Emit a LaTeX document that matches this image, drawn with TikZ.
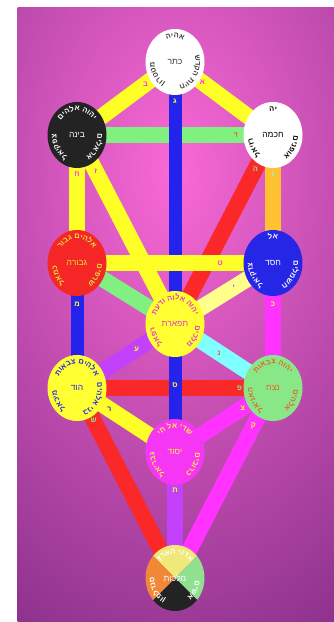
\documentclass[tikz,border=0pt]{standalone}
\usepackage{fontspec}
\newfontfamily\heb[Script=Hebrew]{Liberation Sans}
\TeXXeTstate=1
\usetikzlibrary{shapes.geometric,decorations.text}
\pgfdeclarelayer{bg}
\pgfdeclarelayer{paths}
\pgfsetlayers{bg,paths,main}
\definecolor{pinkc}{RGB}{250,105,215}
\definecolor{purpc}{RGB}{140,50,140}
\definecolor{cYel}{RGB}{255,255,40}
\definecolor{cGrn}{RGB}{128,240,128}
\definecolor{cBlu}{RGB}{35,35,235}
\definecolor{cRed}{RGB}{250,40,40}
\definecolor{cOra}{RGB}{255,195,50}
\definecolor{cLYel}{RGB}{255,255,140}
\definecolor{cCya}{RGB}{128,255,255}
\definecolor{cPur}{RGB}{195,65,250}
\definecolor{cMag}{RGB}{255,50,255}
\definecolor{sBlk}{RGB}{35,35,35}
\definecolor{sBlu}{RGB}{38,38,230}
\definecolor{sRed}{RGB}{245,38,38}
\definecolor{sYel}{RGB}{255,255,50}
\definecolor{sGrn}{RGB}{136,232,136}
\definecolor{sMag}{RGB}{245,55,245}
\definecolor{mYel}{RGB}{240,232,120}
\definecolor{mGrn}{RGB}{144,224,144}
\definecolor{mOra}{RGB}{240,136,56}
\definecolor{tGev}{RGB}{230,230,60}
\definecolor{tTif}{RGB}{225,60,200}
\definecolor{tNet}{RGB}{230,100,40}
\definecolor{tHod}{RGB}{40,40,230}
\definecolor{tYes}{RGB}{255,240,60}
\definecolor{tKet}{RGB}{60,60,60}
\newcommand\ringfont{\heb\bfseries\fontsize{7.5}{7.5}\selectfont}
\newcommand\namefont{\heb\fontsize{8.5}{8.5}\selectfont}
\newcommand\hname[1]{\namefont\beginR #1\endR}
\newcommand\sephring[5]{%
  \path[shift={(#1.center)},decorate,decoration={text along path,text align=center,text color=#5,text={|\ringfont|#2}}]
    (163:20.5pt and 24pt) arc[start angle=163,end angle=17,x radius=20.5pt,y radius=24pt];
  \path[shift={(#1.center)},decorate,decoration={text along path,text align=center,text color=#5,text={|\ringfont|#3}}]
    (257:20.5pt and 24pt) arc[start angle=257,end angle=166,x radius=20.5pt,y radius=24pt];
  \path[shift={(#1.center)},decorate,decoration={text along path,text align=center,text color=#5,text={|\ringfont|#4}}]
    (14:20.5pt and 24pt) arc[start angle=14,end angle=-77,x radius=20.5pt,y radius=24pt];
}
\tikzset{
  seph/.style={ellipse,minimum width=59pt,minimum height=66pt,inner sep=0pt},
  pth/.style={line width=16pt},
  bluepth/.style={line width=13pt,cBlu},
  lbl/.style={font=\heb\bfseries\fontsize{7.5}{7.5}\selectfont,inner sep=0pt},
}
\begin{document}
\begin{tikzpicture}[x=1pt,y=1pt]
\useasboundingbox (0,0) rectangle (334,622);
\begin{pgfonlayer}{bg}
\fill[white] (0,0) rectangle (334,622);
\fill[purpc] (17.5,0) rectangle (334,614);
\begin{scope}
\clip (17.5,0) rectangle (334,614);
\shade[inner color=pinkc,outer color=purpc] (175,450) ellipse [x radius=330pt,y radius=520pt];
\end{scope}
\end{pgfonlayer}

% sephirot
\node[seph,fill=white,text=tKet] (keter) at (175,560) {\hname{כתר}};
\node[seph,fill=white,text=black] (chokmah) at (273,487) {\hname{חכמה}};
\node[seph,fill=sBlk,text=white] (binah) at (77,487) {\hname{בינה}};
\node[seph,fill=sBlu,text=white] (chesed) at (273,359) {\hname{חסד}};
\node[seph,fill=sRed,text=tGev] (gevurah) at (77,359) {\hname{גבורה}};
\node[seph,fill=sYel,text=tTif] (tiferet) at (175,298) {\hname{תפארת}};
\node[seph,fill=sGrn,text=tNet] (netzach) at (273,234) {\hname{נצח}};
\node[seph,fill=sYel,text=tHod] (hod) at (77,234) {\hname{הוד}};
\node[seph,fill=sMag,text=tYes] (yesod) at (175,170) {\hname{יסוד}};
\begin{scope}
\clip (175,44) ellipse [x radius=29.5pt,y radius=33pt];
\fill[mYel] (175,44) -- ++(-50,50) -- ++(100,0) -- cycle;
\fill[mGrn] (175,44) -- ++(50,50) -- ++(0,-100) -- cycle;
\fill[sBlk] (175,44) -- ++(50,-50) -- ++(-100,0) -- cycle;
\fill[mOra] (175,44) -- ++(-50,-50) -- ++(0,100) -- cycle;
\end{scope}
\node[seph,text=white] (malkuth) at (175,44) {\hname{מלכות}};

% ring texts: characters given in visual order along a clockwise arc
\sephring{keter}{היהא}{ןורטטמ}{שדקה תויח}{tKet}
\sephring{chokmah}{הי}{לאיזר}{םינפוא}{black}
\sephring{binah}{םיהלא הוהי}{לאיקפצ}{םילארא}{white}
\sephring{chesed}{לא}{לאיקדצ}{םילמשח}{white}
\sephring{gevurah}{רובג םיהלא}{לאמכ}{םיפרש}{tGev}
\sephring{tiferet}{תעדו הולא הוהי}{לאפר}{םיכלמ}{tTif}
\sephring{netzach}{תואבצ הוהי}{לאינאה}{םיהלא}{tNet}
\sephring{hod}{תואבצ םיהלא}{לאכימ}{םיהלא ינב}{tHod}
\sephring{yesod}{יח לא ידש}{לאירבג}{םיבורכ}{tYes}
\sephring{malkuth}{ץראה ינדא}{ןופלדנס}{םישא}{white}

% paths
\begin{pgfonlayer}{paths}
\draw[pth,cRed] (chokmah.center) -- node[lbl,text=cGrn,pos=.18]{ה} (tiferet.center);
\draw[pth,cYel] (binah.center) -- node[lbl,text=cMag,pos=.19]{ז} (tiferet.center);
\draw[pth,cLYel] (chesed.center) -- node[lbl,text=cPur,pos=.4]{י} (tiferet.center);
\draw[pth,cGrn] (gevurah.center) -- node[lbl,text=cOra,pos=.25]{ל} (tiferet.center);
\draw[pth,cCya] (tiferet.center) -- node[lbl,text=tNet,pos=.45]{נ} (netzach.center);
\draw[pth,cPur] (tiferet.center) -- node[lbl,text=cYel,pos=.39]{ע} (hod.center);
\draw[pth,cMag] (netzach.center) -- node[lbl,text=cYel,pos=.31]{צ} (yesod.center);
\draw[pth,cYel] (hod.center) -- node[lbl,text=tHod,pos=.33]{ר} (yesod.center);
\draw[pth,cRed] (hod.center) -- node[lbl,text=cGrn,pos=.17]{ש} (malkuth.center);
\draw[pth,cMag] (netzach.center) -- node[lbl,text=cYel,pos=.2]{ק} (malkuth.center);
\draw[pth,cPur] (yesod.center) -- node[lbl,text=cYel,pos=.3]{ת} (malkuth.center);
\draw[pth,cYel] (keter.center) -- node[lbl,text=cMag,pos=.3]{ב} (binah.center);
\draw[pth,cYel] (keter.center) -- node[lbl,text=cMag,pos=.28]{א} (chokmah.center);
\draw[pth,cGrn] (binah.center) -- node[lbl,text=tNet,pos=.81]{ד} (chokmah.center);
\draw[pth,cOra] (chokmah.center) -- node[lbl,text=cCya,pos=.31]{ו} (chesed.center);
\draw[pth,cYel] (binah.center) -- node[lbl,text=cMag,pos=.31]{ח} (gevurah.center);
\draw[pth,cMag] (chesed.center) -- node[lbl,text=cYel,pos=.33]{כ} (netzach.center);
\draw[bluepth] (gevurah.center) -- node[lbl,text=cYel,pos=.33]{מ} (hod.center);
\draw[pth,cRed] (hod.center) -- node[lbl,text=cGrn,pos=.83]{פ} (netzach.center);
\draw[bluepth] (keter.center) -- node[lbl,text=cYel,pos=.15]{ג} (tiferet.center);
\draw[bluepth] (tiferet.center) -- node[lbl,text=cYel,pos=.48]{ס} (yesod.center);
\draw[pth,cYel] (gevurah.center) -- node[lbl,text=cMag,pos=.73]{ט} (chesed.center);
\end{pgfonlayer}
\end{tikzpicture}
\end{document}
